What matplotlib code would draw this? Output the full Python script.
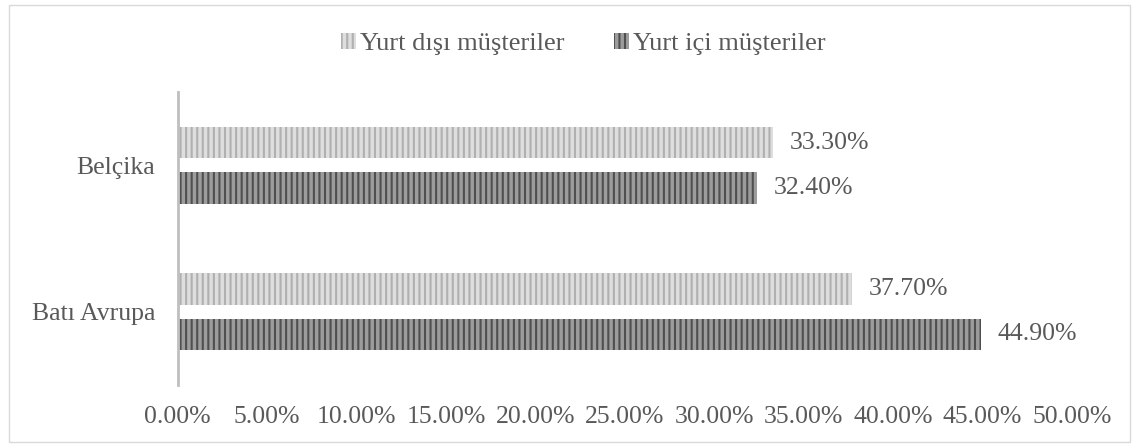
import matplotlib.pyplot as plt
import matplotlib.patches as mpatches
from matplotlib.ticker import FuncFormatter

plt.rcParams['font.family'] = ['Liberation Serif', 'DejaVu Serif']
plt.rcParams['hatch.linewidth'] = 1.5

categories = ['Batı Avrupa', 'Belçika']
foreign = [37.7, 33.3]
domestic = [44.9, 32.4]
series_names = ['Yurt dışı müşteriler', 'Yurt içi müşteriler']

txt = '#595959'
fig = plt.figure(figsize=(11.39, 4.47), dpi=100)
ax = fig.add_axes([0.156, 0.139, 0.785, 0.655])

y = range(len(categories))
h = 0.216
off = 0.155
b1 = ax.barh([i + off for i in y], foreign, height=h, color='#dedede',
             edgecolor='#b0b0b0', hatch='|||', linewidth=0, label=series_names[0])
b2 = ax.barh([i - off for i in y], domestic, height=h, color='#9c9c9c',
             edgecolor='#4f4f4f', hatch='|||', linewidth=0, label=series_names[1])

for bars, vals in ((b1, foreign), (b2, domestic)):
    for r, v in zip(bars, vals):
        ax.text(v + 0.95, r.get_y() + r.get_height() / 2, '%.2f%%' % v,
                va='center', ha='left', fontsize=18.5, color=txt)

ax.set_xlim(0, 50)
ax.set_ylim(-0.5, 1.5)
ax.set_xticks(range(0, 51, 5))
ax.xaxis.set_major_formatter(FuncFormatter(lambda v, p: '%.2f%%' % v))
ax.set_yticks(list(y))
ax.set_yticklabels(categories)
ax.tick_params(length=0, labelsize=18.5, labelcolor=txt)
ax.tick_params(axis='x', pad=15)
ax.tick_params(axis='y', pad=16)
for s in ['top', 'right', 'bottom']:
    ax.spines[s].set_visible(False)
ax.spines['left'].set_color('#bfbfbf')
ax.spines['left'].set_linewidth(2)

leg = fig.legend(handles=[b1, b2], loc='center', bbox_to_anchor=(0.512, 0.902), ncol=2,
                 frameon=False, fontsize=19, labelcolor=txt, handlelength=0.55,
                 handleheight=0.55, handletextpad=0.15, columnspacing=1.9)

fig.patches.append(mpatches.Rectangle((0.008, 0.012), 0.984, 0.976, transform=fig.transFigure,
                                      fill=False, edgecolor='#d9d9d9', linewidth=1))
fig.savefig('out.png', dpi=100, facecolor='white')
